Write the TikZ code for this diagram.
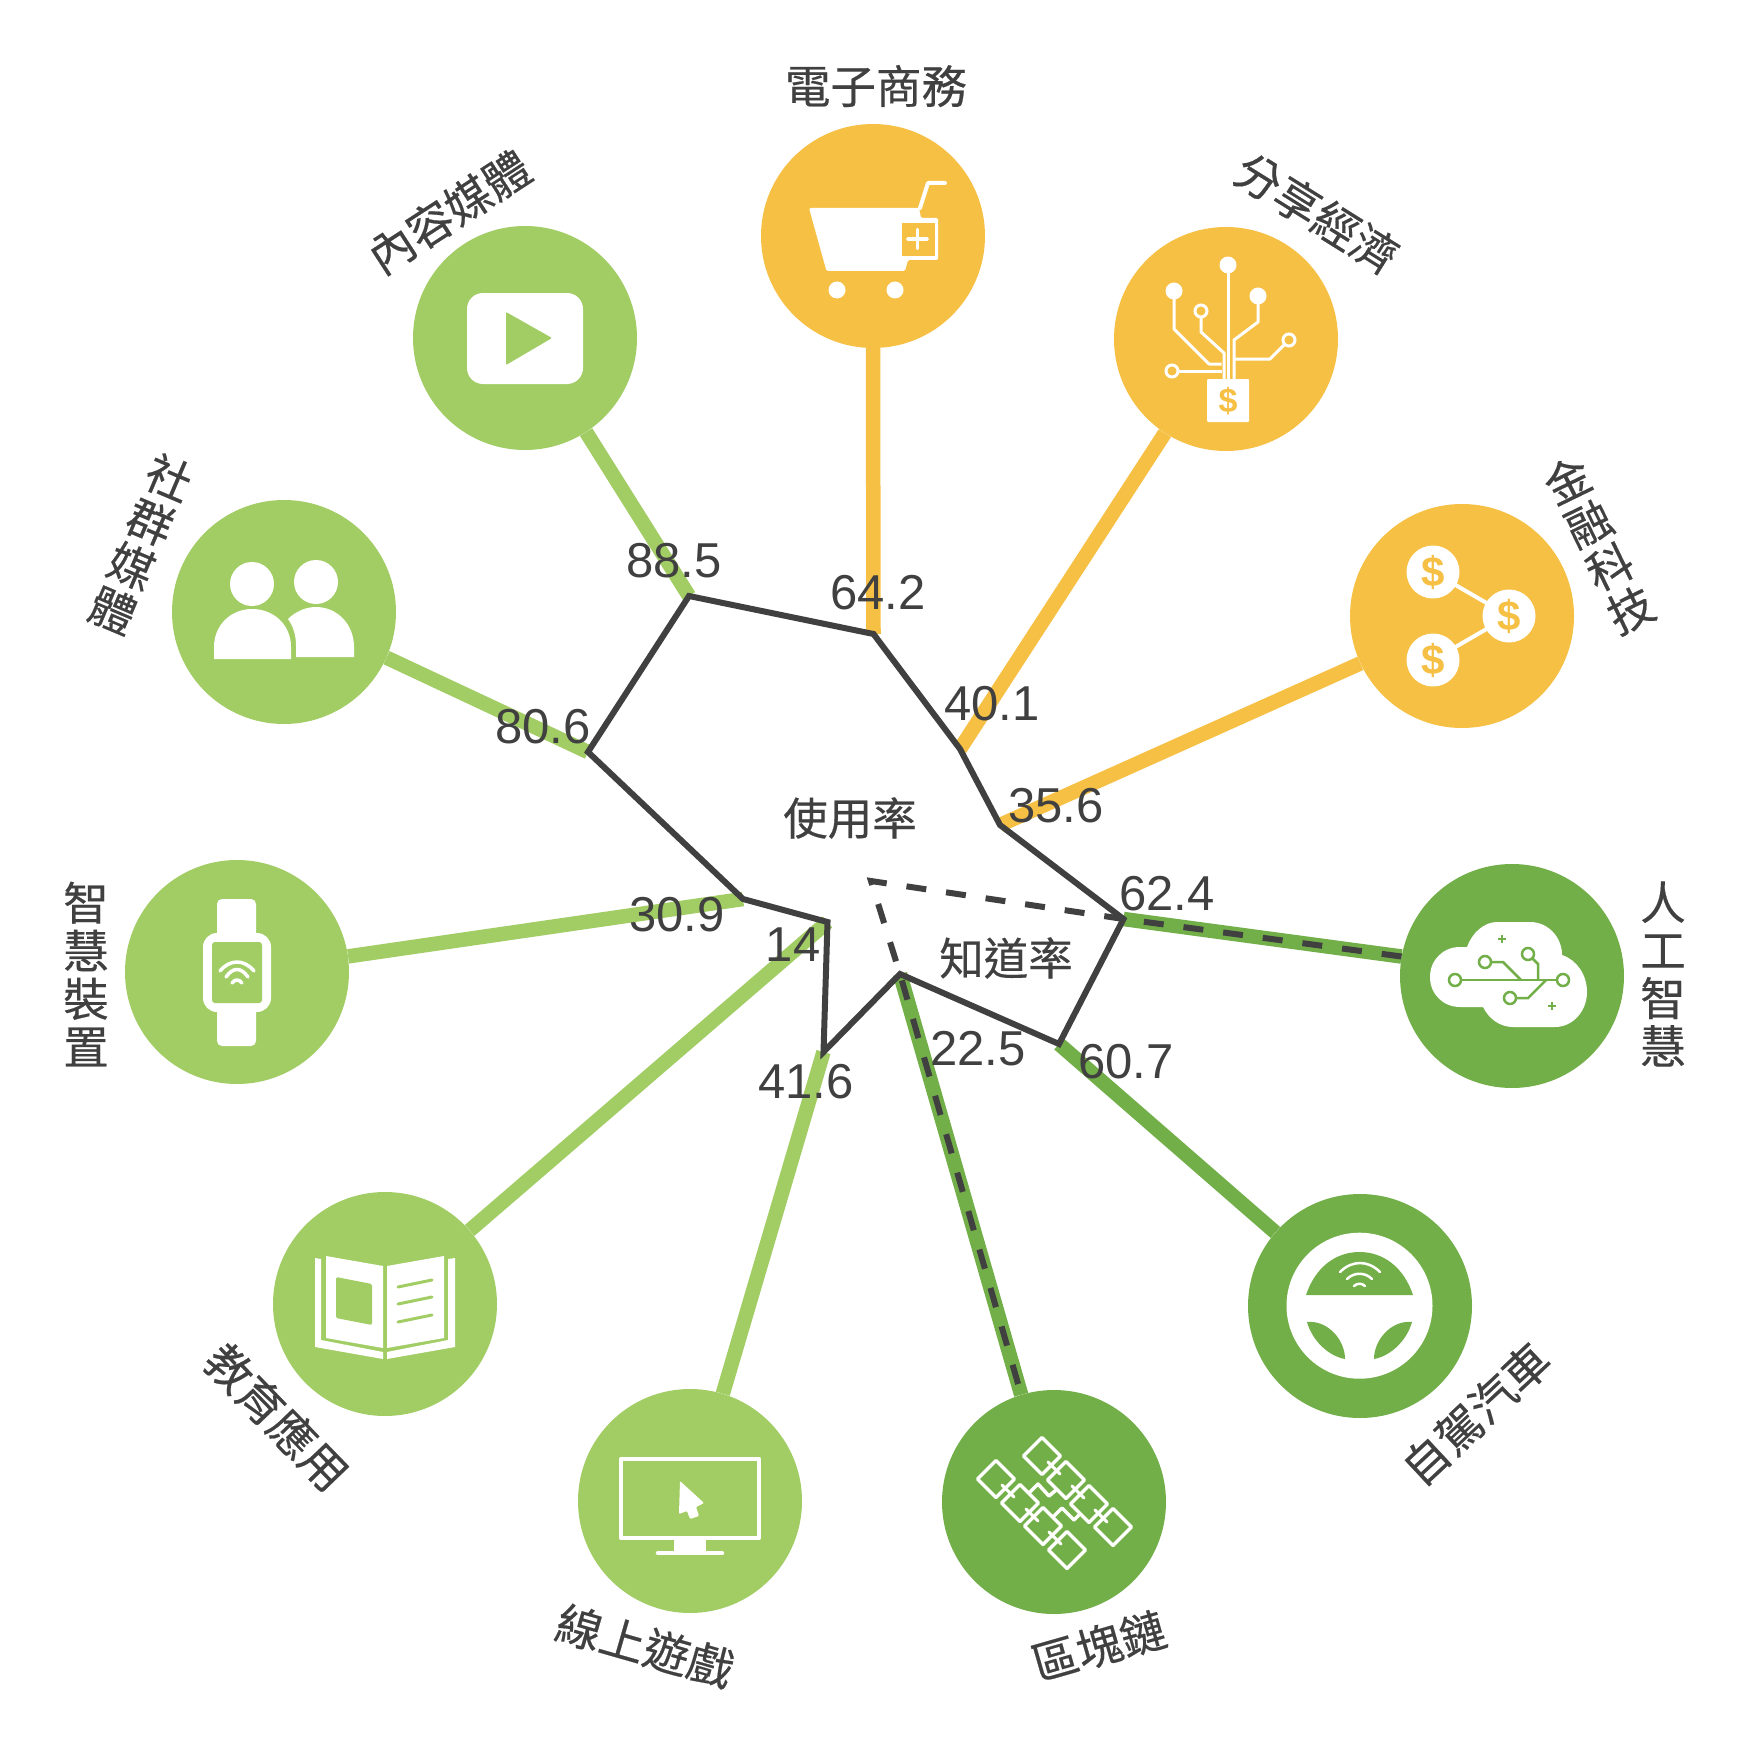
\documentclass[tikz,border=0pt]{standalone}
\usepackage{fontspec}
\setmainfont{Liberation Sans}
\newfontfamily\cjkf[FakeBold=0.4]{Noto Sans CJK TC}
\definecolor{lgreen}{HTML}{A2CD65}
\definecolor{dgreen}{HTML}{73AF49}
\definecolor{orng}{HTML}{F6C044}
\definecolor{ink}{HTML}{404040}
\tikzset{
  x=1pt,y=-1pt,
  disc/.style={circle,inner sep=0pt,minimum size=224pt,fill=#1},
  spoke/.style={line width=14.5pt,draw=#1},
  rate/.style={line width=6pt,draw=ink,line join=miter},
  ratedash/.style={line width=6pt,draw=ink,dash pattern=on 20pt off 20pt},
  val/.style={text=ink,inner sep=0pt,font=\fontsize{49}{49}\selectfont},
  cat/.style={text=ink,inner sep=0pt,align=center,font=\cjkf\fontsize{45.5}{48}\selectfont},
  rateword/.style={text=ink,inner sep=0pt,font=\cjkf\fontsize{44.5}{48}\selectfont},
  wline/.style={draw=white,line width=#1,line cap=round,line join=round},
  dollar/.style={text=orng,inner sep=0pt,font=\fontsize{#1}{#1}\selectfont\bfseries},
}
\begin{document}
\begin{tikzpicture}
\useasboundingbox (0,0) rectangle (1749,1739);
\fill[white] (0,0) rectangle (1749,1739);
% vertices
\coordinate (vA) at (689,596);
\coordinate (vB) at (873.5,634);
\coordinate (vC) at (960,749);
\coordinate (vD) at (1000,825);
\coordinate (vE) at (1123.5,919);
\coordinate (vF) at (1059,1044);
\coordinate (vG) at (900,974);
\coordinate (vH) at (823.5,1052);
\coordinate (vI) at (827.5,922);
\coordinate (vJ) at (743,899);
\coordinate (vK) at (588,752);
\coordinate (ctr) at (871,881);
% discs
\node[disc=orng] (c1) at (873,236) {};
\node[disc=orng] (c2) at (1226,339) {};
\node[disc=orng] (c3) at (1462,616) {};
\node[disc=dgreen] (c4) at (1512,976) {};
\node[disc=dgreen] (c5) at (1360,1306) {};
\node[disc=dgreen] (c6) at (1054,1502) {};
\node[disc=lgreen] (c7) at (690,1501) {};
\node[disc=lgreen] (c8) at (385,1304) {};
\node[disc=lgreen] (c9) at (237,972) {};
\node[disc=lgreen] (c10) at (284,612) {};
\node[disc=lgreen] (c11) at (525,338) {};
% spokes
\draw[spoke=orng] (c1.-90) -- (vB);
\draw[spoke=orng] (c2.-123.3) -- (vC);
\draw[spoke=orng] (c3.-155.7) -- (vD);
\draw[spoke=dgreen] (c4.170.2) -- (vE);
\draw[spoke=dgreen] (c5.139) -- (vF);
\draw[spoke=dgreen] (c6.107.2) -- (vG);
\draw[spoke=lgreen] (c7.73) -- (vH);
\draw[spoke=lgreen] (c8.41) -- (vI);
\draw[spoke=lgreen] (c9.8.3) -- (vJ);
\draw[spoke=lgreen] (c10.-24.7) -- (vK);
\draw[spoke=lgreen] (c11.-57.4) -- (vA);
% usage polygon and awareness dashed
\draw[ratedash] (c4.170.2) -- (vE) -- (ctr) -- (vG) -- (c6.107.2);
\draw[rate] (vA) -- (vB) -- (vC) -- (vD) -- (vE) -- (vF) -- (vG) -- (vH) -- (vI) -- (vJ) -- (vK) -- cycle;
% value labels
\node[val] (l1) at (674,561) {88.5};
\node[val] (l2) at (878,593) {64.2};
\node[val] (l3) at (992,704) {40.1};
\node[val] (l4) at (1056,806) {35.6};
\node[val] (l5) at (1167,894) {62.4};
\node[val] (l6) at (1126,1062) {60.7};
\node[val] (l7) at (978,1049) {22.5};
\node[val] (l8) at (806,1082) {41.6};
\node[val] (l9) at (793,945) {14};
\node[val] (l10) at (677,915) {30.9};
\node[val] (l11) at (543,727) {80.6};
\node[rateword] (u) at (850,818) {使用率};
\node[rateword] (k) at (1006,958) {知道率};
% category labels
\node[cat] (t1) at (876,86) {電子商務};
\node[cat,rotate=-32] (t2) at (1317,213) {分享經濟};
\node[cat,rotate=26] (t3) at (1599,545) {金\\融\\科\\技};
\node[cat] (t4) at (1663,974) {人\\工\\智\\慧};
\node[cat,rotate=43] (t5) at (1476,1414) {自駕汽車};
\node[cat,rotate=16] (t6) at (1099,1646) {區塊鏈};
\node[cat,rotate=-16] (t7) at (645,1646) {線上遊戲};
\node[cat,rotate=-46] (t8) at (277,1417) {教育應用};
\node[cat] (t9) at (86,974) {智\\慧\\裝\\置};
\node[cat,rotate=-23] (t10) at (141,544) {社\\群\\媒\\體};
\node[cat,rotate=33] (t11) at (449,212) {內容媒體};
% icon: cart
\fill[white,rounded corners=1.5pt] (809,208) -- (919,208) -- (921,218) -- (938,218) -- (938,260) -- (908,260) -- (905,271) -- (826.5,271) -- cycle;
\draw[wline=4pt] (920,208) -- (928,183) -- (945,183);
\fill[orng] (902,223) rectangle (934.5,256);
\draw[wline=3.5pt] (908,239) -- (927,239) (917.6,229.5) -- (917.6,248.5);
\fill[white] (837,290) circle (8.5);
\fill[white] (895,290) circle (8.5);
% icon: sharing economy
\draw[wline=3pt,line cap=butt] (1228,265) -- (1228,379);
\draw[wline=3pt,line cap=butt] (1174,291) -- (1174,329) -- (1209,364) -- (1221.5,364);
\draw[wline=3pt,line cap=butt] (1201,311) -- (1201,332) -- (1224,353) -- (1224,379);
\draw[wline=3pt,line cap=butt] (1258,296) -- (1258,322) -- (1234,340) -- (1234,379);
\draw[wline=3pt,line cap=butt] (1289,340) -- (1270,359) -- (1234,359);
\draw[wline=3pt,line cap=butt] (1172,371) -- (1221.5,371);
\fill[white] (1228,265) circle (8.5) (1174,291) circle (8.5) (1258,296) circle (8.5);
\draw[white,line width=3pt,fill=orng] (1201,311) circle (6) (1289,340) circle (6) (1172,371) circle (6);
\fill[white,rounded corners=1pt] (1207,379) rectangle (1249,422);
\node[dollar=34] (d0) at (1228,401) {\$};
% icon: fintech
\draw[white,line width=4pt] (1433,572) -- (1509,616) -- (1433,660);
\fill[white] (1433,572) circle (26.5) (1509,616) circle (26.5) (1433,660) circle (26.5);
\node[dollar=42] (d1) at (1433,572) {\$};
\node[dollar=42] (d2) at (1509,616) {\$};
\node[dollar=42] (d3) at (1433,660) {\$};
% icon: AI cloud
\fill[white] (1430,977) .. controls (1430,960) and (1443,947) .. (1460,947) -- (1467,947) .. controls (1472,933) and (1484,922) .. (1497,922) -- (1530,922) .. controls (1548,922) and (1562,937) .. (1562,955) .. controls (1577,960) and (1587,975) .. (1587,992) .. controls (1587,1011) and (1573,1027) .. (1555,1027) -- (1513,1027) .. controls (1500,1027) and (1489,1019) .. (1483,1007) -- (1460,1007) .. controls (1443,1007) and (1430,994) .. (1430,977) -- cycle;
\draw[dgreen,line width=2.5pt] (1455,980) -- (1563,980);
\draw[dgreen,line width=2.5pt] (1485,962) -- (1503,962) -- (1521,980);
\draw[dgreen,line width=2.5pt] (1528,954) -- (1538,964) -- (1538,980);
\draw[dgreen,line width=2.5pt] (1510,998) -- (1528,998) -- (1546,980);
\draw[dgreen,line width=2.5pt,fill=white] (1455,980) circle (6) (1563,980) circle (6) (1485,962) circle (6) (1528,954) circle (6) (1510,998) circle (6);
\draw[dgreen,line width=2pt] (1498,939) -- (1506,939) (1502,935) -- (1502,943) (1548,1006) -- (1556,1006) (1552,1002) -- (1552,1010);
% icon: steering wheel
\fill[white] (1359.5,1305.7) circle (73);
\fill[dgreen] (1306,1295) .. controls (1315,1268) and (1335,1252) .. (1359.5,1252) .. controls (1384,1252) and (1404,1268) .. (1413,1295) -- cycle;
\draw[wline=2.5pt] (1340,1272) .. controls (1352,1260) and (1368,1260) .. (1380,1272);
\draw[wline=2.5pt] (1347,1279) .. controls (1354,1272) and (1365,1272) .. (1372,1279);
\draw[wline=2.5pt] (1354,1286) .. controls (1357,1283) and (1362,1283) .. (1365,1286);
\fill[dgreen] (1307,1322) .. controls (1328,1320) and (1345,1340) .. (1345,1359) .. controls (1328,1356) and (1312,1340) .. (1307,1322) -- cycle;
\fill[dgreen] (1412,1322) .. controls (1391,1320) and (1374,1340) .. (1374,1359) .. controls (1391,1356) and (1407,1340) .. (1412,1322) -- cycle;
% icon: blockchain
\foreach \px/\py in {1042/1456,1066/1480,1089/1504,1113/1527,996/1479,1020/1503,1043/1526,1067/1550}
  \draw[wline=3.5pt] (\px-18.5,\py) -- (\px,\py-18.5) -- (\px+18.5,\py) -- (\px,\py+18.5) -- cycle;
\foreach \px/\py in {1042/1456,1066/1480,1089/1504,996/1479,1020/1503,1043/1526}
  \draw[wline=3pt] (\px+6,\py+6) -- (\px+18,\py+18);
\draw[wline=3.5pt] (1029,1493) -- (1038,1484) -- (1049,1496) -- (1056,1490);
\draw[wline=3.5pt] (1053,1517) -- (1062,1508) -- (1074,1520) -- (1080,1514);
% icon: monitor
\draw[white,line width=4.3pt,line join=round] (621,1459) rectangle (759,1538);
\fill[white] (674,1540) rectangle (706,1552);
\draw[wline=4.5pt] (658,1553) -- (722,1553);
\fill[white,rounded corners=1pt] (680,1481) -- (704,1503) -- (696,1507) -- (699,1516) -- (690,1519) -- (687,1511) -- (679,1514) -- cycle;
% icon: book
\fill[white] (326,1256) -- (383,1266) -- (383,1348) -- (326,1338) -- cycle;
\fill[white] (387,1266) -- (444,1256) -- (444,1338) -- (387,1348) -- cycle;
\fill[white] (315,1258) -- (321,1259) -- (321,1340) -- (383,1352) -- (383,1359) -- (315,1347) -- cycle;
\fill[white] (455,1258) -- (448,1259) -- (448,1340) -- (387,1352) -- (387,1359) -- (455,1347) -- cycle;
\fill[lgreen,rounded corners=1.5pt] (336,1277) -- (372,1284) -- (372,1325) -- (336,1318) -- cycle;
\draw[lgreen,line width=3pt,line cap=round] (398,1287) -- (432,1280) (398,1304) -- (432,1297) (398,1322) -- (432,1315);
% icon: watch
\fill[white,rounded corners=5pt] (217,899) rectangle (256,1046);
\fill[white,rounded corners=14pt] (203,933) rectangle (271,1012);
\fill[lgreen,rounded corners=3pt] (212,942) rectangle (262,1003);
\draw[wline=3.5pt] (220,971) .. controls (230,959) and (244,959) .. (254,971);
\draw[wline=3.5pt] (226,977) .. controls (233,967) and (241,967) .. (248,977);
\draw[wline=3.5pt] (232,983) .. controls (235,979) and (239,979) .. (242,983);
% icon: people
\fill[white] (252,584) circle (22) (316,582) circle (22);
\fill[white] (214,659) -- (214,647) .. controls (214,625) and (231,609) .. (252,609) .. controls (274,609) and (291,625) .. (291,647) -- (291,659) -- cycle;
\fill[white] (296,657) -- (354,657) -- (354,647) .. controls (354,624) and (337,607) .. (316,607) .. controls (305,607) and (295,612) .. (288,619) .. controls (293,626) and (296,635) .. (296,645) -- cycle;
% icon: video
\fill[white,rounded corners=16pt] (467,293) rectangle (583,384);
\fill[lgreen,rounded corners=1pt] (506,312) -- (552,338) -- (506,365) -- cycle;
\end{tikzpicture}
\end{document}
